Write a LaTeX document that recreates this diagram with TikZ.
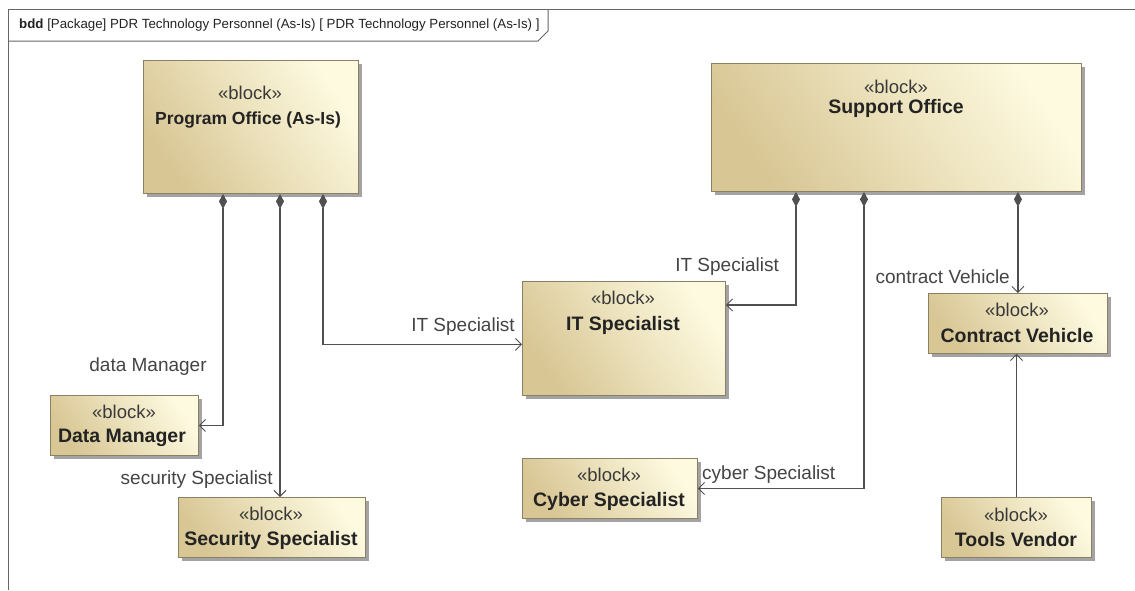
\documentclass[tikz,border=0pt]{standalone}
\usepackage{fontspec}
\setmainfont{Liberation Sans}
\usetikzlibrary{arrows.meta,shadows,calc}
\definecolor{blkdark}{RGB}{216,198,148}
\definecolor{blklight}{RGB}{253,250,224}
\definecolor{blkborder}{RGB}{140,128,100}
\definecolor{linec}{RGB}{80,80,80}
\definecolor{txt}{RGB}{35,35,35}
\begin{document}
\begin{tikzpicture}[x=1pt,y=-1pt,
  blk/.style={draw=blkborder, line width=0.9pt, rectangle, anchor=north west, inner sep=0pt,
    top color=blkdark, bottom color=blklight, shading angle=125,
    drop shadow={fill=black!40, shadow xshift=4pt, shadow yshift=-4pt, opacity=0.9}},
  stereo/.style={font=\fontsize{18.5}{20}\selectfont, text=txt!90!white, inner sep=0pt},
  btitle/.style={font=\fontsize{19.5}{22}\selectfont\bfseries, text=txt, inner sep=0pt},
  lbl/.style={font=\fontsize{19}{21}\selectfont, text=txt!85!white, inner sep=0pt},
  comp/.style={draw=linec, line width=1.1pt, {Diamond[fill=linec,length=15pt,width=8pt]}-{Straight Barb[length=6pt,width=12pt,line width=0.9pt]}},
  assoc/.style={draw=linec, line width=1.1pt, -{Straight Barb[length=6pt,width=12pt,line width=0.9pt]}},
  frame/.style={draw=black!60, line width=1pt}]
\useasboundingbox (0,0) rectangle (1135,590);
\fill[white] (0,0) rectangle (1135,590);
% frame
\draw[frame] (8,590) -- (8,9) -- (1135,9);
\draw[frame] (8,41) -- (538,41) -- (548,31) -- (548,9);
\node[anchor=west, inner sep=0pt, font=\fontsize{13.3}{15}\selectfont, text=txt] (hdr) at (19,25)
  {\textbf{bdd} [Package] PDR Technology Personnel (As-Is) [ PDR Technology Personnel (As-Is) ]};
% blocks
\node[blk, minimum width=215pt, minimum height=133pt] (po) at (143,60) {};
\node[stereo] (poS) at (250,93) {«block»};
\node[btitle, font=\fontsize{17.5}{20}\selectfont\bfseries] (poT) at (248,120) {Program Office (As-Is)};

\node[blk, minimum width=370pt, minimum height=128pt] (so) at (711,63) {};
\node[stereo] (soS) at (896,87) {«block»};
\node[btitle] (soT) at (896,108) {Support Office};

\node[blk, minimum width=203pt, minimum height=114pt] (it) at (522,281) {};
\node[stereo] (itS) at (623,298) {«block»};
\node[btitle] (itT) at (623,325) {IT Specialist};

\node[blk, minimum width=148pt, minimum height=60pt] (dm) at (50,395) {};
\node[stereo] (dmS) at (124,412) {«block»};
\node[btitle] (dmT) at (122,438) {Data Manager};

\node[blk, minimum width=187pt, minimum height=60pt] (sec) at (178,497) {};
\node[stereo] (secS) at (271,514) {«block»};
\node[btitle] (secT) at (271,540) {Security Specialist};

\node[blk, minimum width=175pt, minimum height=60pt] (cy) at (522,458) {};
\node[stereo] (cyS) at (609,475) {«block»};
\node[btitle] (cyT) at (609,501) {Cyber Specialist};

\node[blk, minimum width=179pt, minimum height=60pt] (cv) at (928,293) {};
\node[stereo] (cvS) at (1017,310) {«block»};
\node[btitle] (cvT) at (1017,336) {Contract Vehicle};

\node[blk, minimum width=150pt, minimum height=60pt] (tv) at (941,497) {};
\node[stereo] (tvS) at (1016,515) {«block»};
\node[btitle] (tvT) at (1016,540) {Tools Vendor};
% connectors
\draw[comp] ($(po.south west)+(80,0)$) |- (dm.east);
\draw[comp] ($(po.south west)+(137,0)$) coordinate (p2) -- (p2 |- sec.north);
\draw[comp] ($(po.south west)+(180,0)$) |- ($(it.west)+(0,6)$);
\draw[comp] ($(so.south west)+(85,0)$) |- ($(it.north east)+(0,24)$);
\draw[comp] ($(so.south west)+(153,0)$) |- (cy.east);
\draw[comp] (so.south -| cv.north) -- (cv.north);
\draw[assoc] (tv.north) -- (tv.north |- cv.south);
% labels
\node[lbl] (l1) at (148,367) {data Manager};
\node[lbl, anchor=east] (l2) at (273,480) {security Specialist};
\node[lbl, anchor=east] (l3) at (515,327) {IT Specialist};
\node[lbl, anchor=east] (l4) at (779,267) {IT Specialist};
\node[lbl, anchor=west] (l5) at (702,475) {cyber Specialist};
\node[lbl, anchor=east] (l6) at (1010,277) {contract Vehicle};
\end{tikzpicture}
\end{document}
